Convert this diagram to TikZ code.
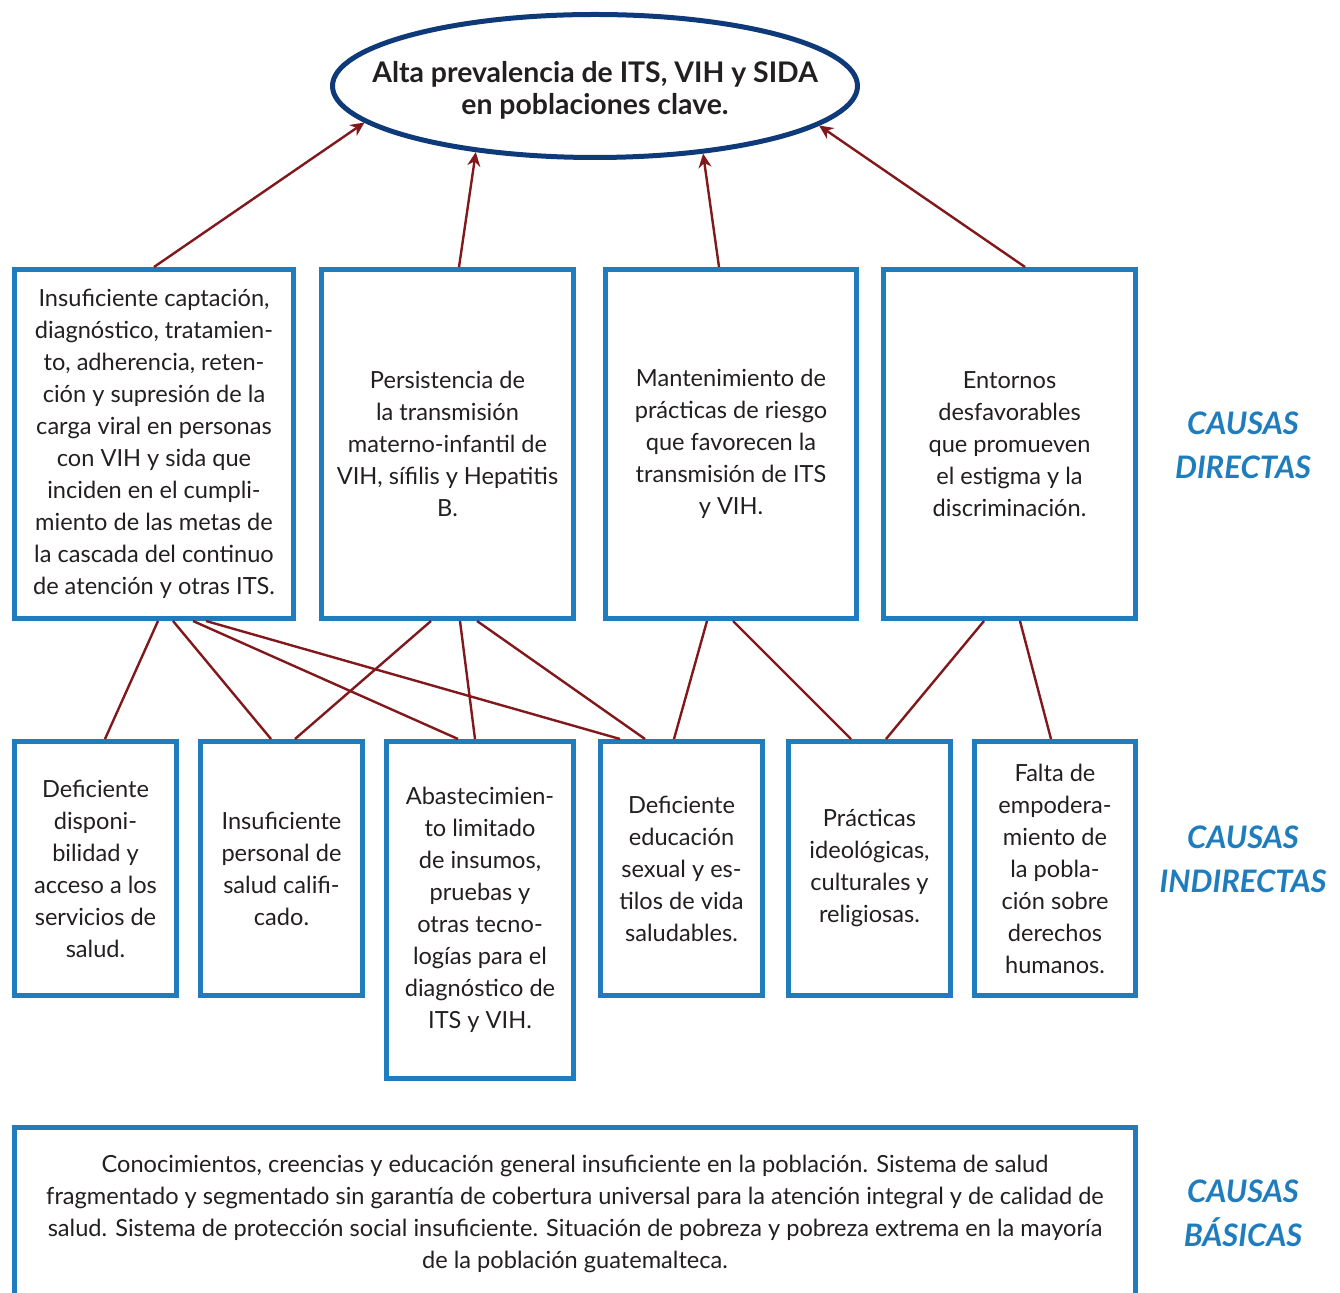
\documentclass[tikz,border=0pt]{standalone}
\usepackage{fontspec}
\setmainfont{Lato}
\usepackage{tikz}
\usetikzlibrary{arrows.meta,calc,shapes.geometric}
\definecolor{boxblue}{RGB}{31,125,189}
\definecolor{navy}{RGB}{14,58,122}
\definecolor{linkred}{RGB}{128,24,28}
\definecolor{ink}{RGB}{35,31,32}

\begin{document}
\begin{tikzpicture}[
    x=0.5pt, y=-0.5pt,
    cause/.style={draw=boxblue, line width=2.5pt, align=center, inner sep=2pt,
                  text=ink, font=\fontsize{11.8}{16}\selectfont},
    direct/.style={cause, minimum height=174.5pt},
    indirect/.style={cause, minimum width=81pt, minimum height=127pt},
    tier/.style={text=boxblue, align=center,
                 font=\fontsize{15.5}{22}\selectfont\bfseries\itshape},
    link/.style={draw=linkred, line width=1.2pt},
    >={Stealth[length=7pt,width=6.5pt]},
]
  \useasboundingbox (0,0) rectangle (1340,1293);
  \clip (0,0) rectangle (1340,1293);

  % Problem
  \node[ellipse, draw=navy, line width=2.5pt, minimum width=262.5pt, minimum height=71.5pt,
        inner sep=0pt] (P) at (595,86) {};
  \node[align=center, text=ink, font=\fontsize{14.2}{16}\selectfont\bfseries] (Pt) at (595,90)
    {Alta prevalencia de ITS, VIH y SIDA\\en poblaciones clave.};

  % Direct causes
  \node[direct, minimum width=139.5pt] (D1) at (154,444)
    {Insuficiente captación,\\diagnóstico, tratamien-\\to, adherencia, reten-\\ción y supresión de la\\carga viral en personas\\con VIH y sida que\\inciden en el cumpli-\\miento de las metas de\\la cascada del continuo\\de atención y otras ITS.};
  \node[direct, minimum width=126pt] (D2) at (447.5,444)
    {Persistencia de\\la transmisión\\materno-infantil de\\VIH, sífilis y Hepatitis\\B.};
  \node[direct, minimum width=125.5pt] (D3) at (731,444)
    {Mantenimiento de\\prácticas de riesgo\\que favorecen la\\transmisión de ITS\\y VIH.};
  \node[direct, minimum width=126pt] (D4) at (1009.5,444)
    {Entornos\\desfavorables\\que promueven\\el estigma y la\\discriminación.};

  % Indirect causes
  \node[indirect] (I1) at (95.5,868.5)
    {Deficiente\\disponi-\\bilidad y\\acceso a los\\servicios de\\salud.};
  \node[indirect] (I2) at (281.5,868.5)
    {Insuficiente\\personal de\\salud califi-\\cado.};
  \node[indirect, minimum width=93.5pt, minimum height=168.5pt] (I3) at (480,910)
    {Abastecimien-\\to limitado\\de insumos,\\pruebas y\\otras tecno-\\logías para el\\diagnóstico de\\ITS y VIH.};
  \node[indirect] (I4) at (681.5,868.5)
    {Deficiente\\educación\\sexual y es-\\tilos de vida\\saludables.};
  \node[indirect] (I5) at (869.5,868.5)
    {Prácticas\\ideológicas,\\culturales y\\religiosas.};
  \node[indirect, minimum width=80.5pt] (I6) at (1055,868.5)
    {Falta de\\empodera-\\miento de\\la pobla-\\ción sobre\\derechos\\humanos.};

  % Basic causes
  \node[cause, minimum width=560.5pt, minimum height=86pt] (B) at (575,1213.5)
    {Conocimientos, creencias y educación general insuficiente en la población. Sistema de salud\\
     fragmentado y segmentado sin garantía de cobertura universal para la atención integral y de calidad de\\
     salud. Sistema de protección social insuficiente. Situación de pobreza y pobreza extrema en la mayoría\\
     de la población guatemalteca.};

  % Tier labels
  \node[tier] (tD) at (1243,445) {CAUSAS\\DIRECTAS};
  \node[tier] (tI) at (1243,859) {CAUSAS\\INDIRECTAS};
  \node[tier] (tB) at (1243,1213) {CAUSAS\\BÁSICAS};

  % Arrows to the problem
  \draw[link,->] (D1.north) -- (P.189);
  \draw[link,->] ($(D2.north)+(11.5,0)$) -- (P.209.6);
  \draw[link,->] ($(D3.north)+(-12,0)$) -- (P.328.3);
  \draw[link,->] ($(D4.north)+(15.5,0)$) -- (P.350.3);

  % Links between direct and indirect causes
  \draw[link] ($(D1.south)+(4,0)$) -- ($(I1.north)+(9.5,0)$);
  \draw[link] ($(D1.south)+(19,0)$) -- ($(I2.north)+(-10.5,0)$);
  \draw[link] ($(D1.south)+(39,0)$) -- ($(I3.north)+(-22,0)$);
  \draw[link] ($(D1.south)+(52,0)$) -- ($(I4.north)+(-61.5,0)$);
  \draw[link] ($(D2.south)+(-16.5,0)$) -- ($(I2.north)+(13.5,0)$);
  \draw[link] ($(D2.south)+(12.5,0)$) -- ($(I3.north)+(-5,0)$);
  \draw[link] ($(D2.south)+(29.5,0)$) -- ($(I4.north)+(-36.5,0)$);
  \draw[link] ($(D3.south)+(-24,0)$) -- ($(I4.north)+(-7.5,0)$);
  \draw[link] ($(D3.south)+(2,0)$) -- ($(I5.north)+(-18.5,0)$);
  \draw[link] ($(D4.south)+(-25.5,0)$) -- ($(I5.north)+(16.5,0)$);
  \draw[link] ($(D4.south)+(10.5,0)$) -- ($(I6.north)+(-4,0)$);
\end{tikzpicture}
\end{document}
